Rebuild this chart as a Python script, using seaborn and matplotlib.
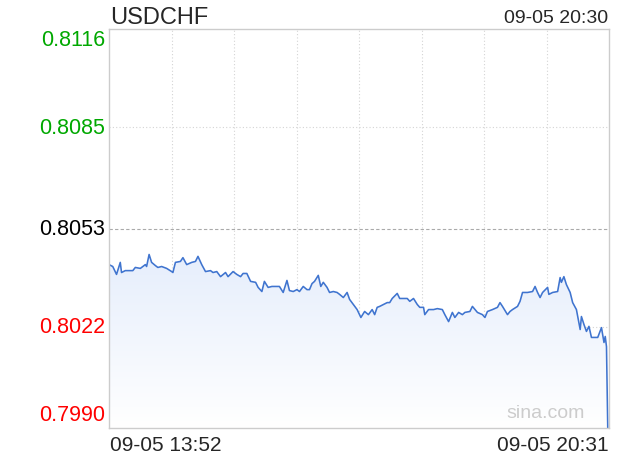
import numpy as np
import pandas as pd
import matplotlib
matplotlib.use("Agg")
import matplotlib.pyplot as plt
import seaborn as sns
from matplotlib.colors import LinearSegmentedColormap

symbol = "USDCHF"
day = "09-05"
start_time = "13:52"
end_time = "20:31"
last_time = "20:30"
prev_close = 0.8053
y_ticks = [0.7990, 0.8022, 0.8053, 0.8085, 0.8116]

# minutes since 13:52 and the quote at that moment
elapsed_min = [0, 3, 6, 9, 10, 13, 19, 21, 25, 29,
               30, 32, 34, 37, 39, 42, 46, 50, 51, 53,
               57, 59, 62, 66, 69, 71, 74, 77, 81, 83,
               86, 89, 93, 95, 99, 102, 105, 107, 110, 113,
               117, 119, 122, 124, 127, 130, 133, 136, 139, 142,
               144, 147, 150, 152, 155, 158, 160, 162, 164, 167,
               169, 171, 174, 176, 179, 182, 184, 187, 190, 192,
               195, 198, 201, 204, 207, 210, 212, 214, 216, 219,
               222, 224, 226, 230, 232, 235, 238, 240, 243, 246,
               248, 251, 252, 255, 259, 262, 266, 268, 271, 274,
               276, 279, 282, 284, 288, 290, 294, 298, 300, 302,
               306, 310, 312, 314, 318, 320, 322, 326, 328, 330,
               334, 338, 340, 342, 344, 346, 350, 351, 354, 358,
               360, 361, 363, 365, 368, 370, 373, 376, 377, 379,
               381, 383, 385, 388, 390, 393, 395, 396, 397, 398]
price = [0.80416, 0.80410, 0.80385, 0.80423, 0.80391, 0.80397, 0.80397, 0.80407, 0.80404, 0.80416,
         0.80410, 0.80448, 0.80423, 0.80413, 0.80407, 0.80410, 0.80404, 0.80394, 0.80391, 0.80423,
         0.80426, 0.80438, 0.80416, 0.80423, 0.80426, 0.80442, 0.80416, 0.80394, 0.80397, 0.80391,
         0.80394, 0.80378, 0.80391, 0.80378, 0.80394, 0.80385, 0.80378, 0.80388, 0.80388, 0.80363,
         0.80360, 0.80344, 0.80331, 0.80363, 0.80344, 0.80347, 0.80347, 0.80347, 0.80328, 0.80366,
         0.80334, 0.80331, 0.80337, 0.80331, 0.80347, 0.80337, 0.80337, 0.80356, 0.80363, 0.80382,
         0.80347, 0.80360, 0.80344, 0.80328, 0.80331, 0.80328, 0.80322, 0.80312, 0.80328, 0.80306,
         0.80290, 0.80274, 0.80249, 0.80268, 0.80258, 0.80274, 0.80258, 0.80281, 0.80284, 0.80290,
         0.80296, 0.80296, 0.80309, 0.80325, 0.80309, 0.80309, 0.80309, 0.80300, 0.80309, 0.80290,
         0.80281, 0.80281, 0.80258, 0.80274, 0.80274, 0.80277, 0.80274, 0.80258, 0.80236, 0.80265,
         0.80249, 0.80265, 0.80258, 0.80265, 0.80268, 0.80284, 0.80265, 0.80258, 0.80249, 0.80268,
         0.80274, 0.80281, 0.80296, 0.80284, 0.80258, 0.80268, 0.80274, 0.80284, 0.80300, 0.80328,
         0.80328, 0.80331, 0.80347, 0.80328, 0.80312, 0.80328, 0.80344, 0.80322, 0.80328, 0.80331,
         0.80375, 0.80360, 0.80378, 0.80353, 0.80328, 0.80296, 0.80274, 0.80211, 0.80252, 0.80227,
         0.80205, 0.80221, 0.80186, 0.80186, 0.80186, 0.80217, 0.80170, 0.80189, 0.80157, 0.79900]

df = pd.DataFrame({"t": elapsed_min, "price": price})
span = (pd.to_datetime(end_time) - pd.to_datetime(start_time)).total_seconds() / 60

sns.set_style("white")
plt.rcParams["font.family"] = ["Liberation Sans", "DejaVu Sans"]

fig = plt.figure(figsize=(6.2, 4.6), dpi=100)
ax = fig.add_axes([109 / 620, 31 / 460, 500 / 620, 399 / 460])

ymin, ymax = y_ticks[0], y_ticks[-1]

# grid
for x in np.linspace(0, span, 9)[1:-1]:
    ax.axvline(x, color="#d4d4d4", lw=0.8, ls=(0, (1, 2)), zorder=0)
for v in y_ticks[1:-1]:
    if v == prev_close:
        ax.axhline(v, color="#aaaaaa", lw=0.8, ls=(0, (3, 2)), zorder=0)
    else:
        ax.axhline(v, color="#d4d4d4", lw=0.8, ls=(0, (1, 2)), zorder=0)

# gradient fill under the line
poly = ax.fill_between(df["t"], df["price"], ymin, color="none", lw=0)
cmap = LinearSegmentedColormap.from_list("fill", ["#ffffff", "#e6eefc"])
grad = np.linspace(1, 0, 256).reshape(-1, 1)
im = ax.imshow(grad, extent=[0, span, ymin, max(price)], aspect="auto",
               cmap=cmap, origin="upper", zorder=1)
im.set_clip_path(poly.get_paths()[0], transform=ax.transData)

sns.lineplot(data=df, x="t", y="price", ax=ax, color="#3f74cf", lw=1.15, zorder=2)

ax.set_xlim(0, span)
ax.set_ylim(ymin, ymax)
ax.set_xlabel("")
ax.set_ylabel("")
ax.tick_params(length=0, labelleft=False, labelbottom=False)
for s in ax.spines.values():
    s.set_color("#cccccc")
    s.set_linewidth(1)

# y labels, coloured against the previous close
for i, v in enumerate(y_ticks):
    if v > prev_close:
        c = "#00a800"
    elif v < prev_close:
        c = "#ff0000"
    else:
        c = "#000000"
    dy = 0
    if i == 0:
        dy = 9.5
    elif i == len(y_ticks) - 1:
        dy = -7.5
    ax.annotate(f"{v:.4f}", xy=(0, v), xycoords=("axes fraction", "data"),
                xytext=(-3, dy), textcoords="offset points",
                ha="right", va="center", fontsize=15.5, color=c)

fig.text(110 / 620, 1 - 24 / 460, symbol, fontsize=17, ha="left", va="baseline")
fig.text(608 / 620, 1 - 23 / 460, f"{day} {last_time}", fontsize=14, ha="right", va="baseline")
fig.text(110 / 620, 1 - 446 / 460, f"{day} {start_time}", fontsize=15, ha="left", va="center")
fig.text(609 / 620, 1 - 446 / 460, f"{day} {end_time}", fontsize=15, ha="right", va="center")
fig.text(585 / 620, 1 - 414 / 460, "sina.com", fontsize=14, ha="right", va="center", color="#cccccc")

fig.savefig("out.png", dpi=100)
